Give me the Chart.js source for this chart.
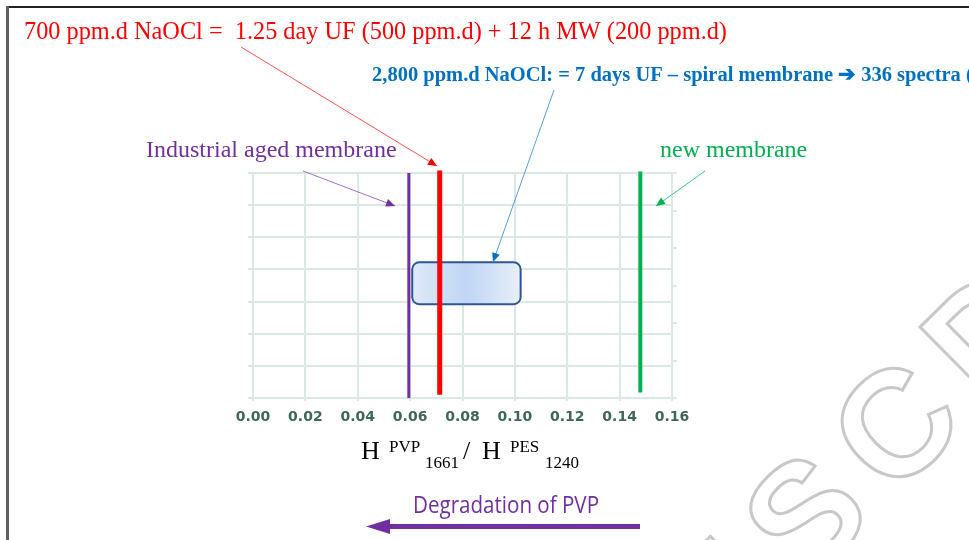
<!DOCTYPE html>
<html>
<head>
<meta charset="utf-8">
<script src="https://cdn.jsdelivr.net/npm/chart.js@4"></script>
<style>
  html, body { margin: 0; padding: 0; background: #fff; }
  #wrap { position: relative; width: 969px; height: 540px; }
</style>
</head>
<body>
<div id="wrap"><canvas id="chart"></canvas></div>
<script>
// x axis: H PVP1661 / H PES1240
const xMin = 0, xMax = 0.16, xStep = 0.02;
// hidden y axes (only grid / tick marks are visible)
const yMin = 0, yMax = 7;
const y2Max = 6;

// vertical marker lines
const lineNames = ['Industrial aged membrane', '700 ppm.d NaOCl', 'new membrane'];
const lineX = [0.0595, 0.0713, 0.1479];
const lineBottom = [0, 0.1, 0.17];
const lineTop = [7, 7.08, 7.05];
const lineColors = ['#7030a0', '#ff0000', '#00b050'];
const lineWidths = [3, 5, 4];

// 2,800 ppm.d NaOCl range (rounded box)
const boxX = [0.0608, 0.1022];
const boxY = [2.92, 4.22];

const gridColor = '#dbe9e3';
const tickColor = '#3e6659';

function arrow(ctx, x1, y1, x2, y2, lineCol, headCol) {
    ctx.save();
    ctx.strokeStyle = lineCol;
    ctx.lineWidth = 1;
    ctx.beginPath();
    ctx.moveTo(x1, y1);
    ctx.lineTo(x2, y2);
    ctx.stroke();
    const a = Math.atan2(y2 - y1, x2 - x1);
    const len = 9, w = 4;
    ctx.fillStyle = headCol;
    ctx.beginPath();
    ctx.moveTo(x2, y2);
    ctx.lineTo(x2 - len * Math.cos(a) + w * Math.sin(a), y2 - len * Math.sin(a) - w * Math.cos(a));
    ctx.lineTo(x2 - len * Math.cos(a) - w * Math.sin(a), y2 - len * Math.sin(a) + w * Math.cos(a));
    ctx.closePath();
    ctx.fill();
    ctx.restore();
}

// rounded box drawn from data values, under the lines
const boxPlugin = {
    id: 'box',
    beforeDatasetsDraw(chart) {
        const { ctx, scales } = chart;
        const x1 = scales.x.getPixelForValue(boxX[0]);
        const x2 = scales.x.getPixelForValue(boxX[1]);
        const y1 = scales.y.getPixelForValue(boxY[1]);
        const y2 = scales.y.getPixelForValue(boxY[0]);
        const g = ctx.createLinearGradient(x1, 0, x2, 0);
        g.addColorStop(0, '#dfe9f8');
        g.addColorStop(0.5, '#bfd6f4');
        g.addColorStop(1, '#e8eff9');
        ctx.save();
        ctx.beginPath();
        ctx.roundRect(x1, y1, x2 - x1, y2 - y1, 7);
        ctx.fillStyle = g;
        ctx.fill();
        ctx.lineWidth = 2;
        ctx.strokeStyle = '#2f5597';
        ctx.stroke();
        ctx.restore();
    }
};

// slide texts, arrows, frame and watermark
const slidePlugin = {
    id: 'slide',
    afterDraw(chart) {
        const ctx = chart.ctx;
        ctx.save();

        // frame
        ctx.fillStyle = '#222';
        ctx.fillRect(7, 6, 962, 2);
        ctx.fillStyle = '#606060';
        ctx.fillRect(6, 6, 3, 534);

        // watermark
        ctx.save();
        ctx.strokeStyle = '#c8c8c8';
        ctx.lineWidth = 3;
        ctx.font = 'bold 150px "Liberation Sans"';
        ctx.textAlign = 'center';
        ctx.textBaseline = 'middle';
        [['U', 722, 612], ['S', 812, 522], ['C', 902, 432], ['D', 995, 340]].forEach(([ch, x, y]) => {
            ctx.save();
            ctx.translate(x, y);
            ctx.rotate(-0.78);
            ctx.strokeText(ch, 0, 0);
            ctx.restore();
        });
        ctx.restore();

        ctx.textBaseline = 'alphabetic';
        ctx.textAlign = 'left';

        // red heading
        ctx.fillStyle = '#ff0000';
        ctx.font = '24.3px "Liberation Serif"';
        ctx.fillText('700 ppm.d NaOCl =  1.25 day UF (500 ppm.d) + 12 h MW (200 ppm.d)', 24, 39, 703);

        // blue heading
        ctx.fillStyle = '#0070c0';
        ctx.font = 'bold 20.5px "Liberation Serif"';
        ctx.fillText('2,800 ppm.d NaOCl: = 7 days UF \u2013 spiral membrane \u2794 336 spectra (', 372, 81);

        // labels
        ctx.fillStyle = '#7030a0';
        ctx.font = '24px "Liberation Serif"';
        ctx.fillText(lineNames[0], 146, 157, 252);
        ctx.fillStyle = '#00b050';
        ctx.fillText(lineNames[2], 660, 157, 148);

        // arrows
        arrow(ctx, 241, 47, 437, 166, '#ff5050', '#ff0000');
        arrow(ctx, 554, 90, 493, 262, '#5b9bd5', '#0070c0');
        arrow(ctx, 303, 171, 395, 206, '#9b6fc8', '#7030a0');
        arrow(ctx, 705, 171, 656, 206, '#40c080', '#00b050');

        // axis title with super/subscripts
        ctx.fillStyle = '#000';
        ctx.font = '26px "Liberation Serif"';
        ctx.fillText('H', 361, 459);
        ctx.fillText('/', 463, 459);
        ctx.fillText('H', 482, 459);
        ctx.font = '17px "Liberation Serif"';
        ctx.fillText('PVP', 389, 452);
        ctx.fillText('1661', 425, 468);
        ctx.fillText('PES', 510, 452);
        ctx.fillText('1240', 545, 468);

        // degradation arrow
        ctx.fillStyle = '#7030a0';
        ctx.font = '24px "Open Sans"';
        ctx.fillText('Degradation of PVP', 413, 513, 186);
        ctx.fillRect(385, 524, 255, 5);
        ctx.beginPath();
        ctx.moveTo(366, 526.5);
        ctx.lineTo(390, 519);
        ctx.lineTo(390, 534);
        ctx.closePath();
        ctx.fill();

        ctx.restore();
    }
};

const datasets = lineNames.map((name, i) => ({
    label: name,
    data: [{ x: lineX[i], y: lineBottom[i] }, { x: lineX[i], y: lineTop[i] }],
    showLine: true,
    borderColor: lineColors[i],
    borderWidth: lineWidths[i],
    borderCapStyle: 'butt',
    pointRadius: 0,
    clip: 10
}));

new Chart(document.getElementById('chart'), {
    type: 'scatter',
    data: { datasets },
    options: {
        responsive: true,
        maintainAspectRatio: false,
        animation: false,
        layout: { padding: { top: 173, left: 0, right: 0, bottom: 0 } },
        plugins: {
            legend: { display: false },
            tooltip: { enabled: false }
        },
        scales: {
            x: {
                type: 'linear',
                min: xMin,
                max: xMax,
                afterFit: s => { s.height = 142; },
                grid: { color: gridColor, lineWidth: 2, tickLength: 3 },
                border: { color: gridColor, width: 2 },
                ticks: {
                    stepSize: xStep,
                    padding: 8,
                    color: tickColor,
                    font: { family: 'DejaVu Sans', weight: 'bold', size: 14 },
                    callback: v => v.toFixed(2)
                }
            },
            y: {
                min: yMin,
                max: yMax,
                afterFit: s => { s.width = 253; },
                grid: { color: gridColor, lineWidth: 2, tickLength: 5 },
                border: { color: gridColor, width: 2 },
                ticks: { stepSize: 1, display: false }
            },
            y2: {
                position: 'right',
                min: 0,
                max: y2Max,
                afterFit: s => { s.width = 297; },
                grid: { color: gridColor, lineWidth: 2, tickLength: 5, drawOnChartArea: false },
                border: { display: false },
                ticks: { stepSize: 1, display: false }
            }
        }
    },
    plugins: [boxPlugin, slidePlugin]
});
</script>
</body>
</html>
